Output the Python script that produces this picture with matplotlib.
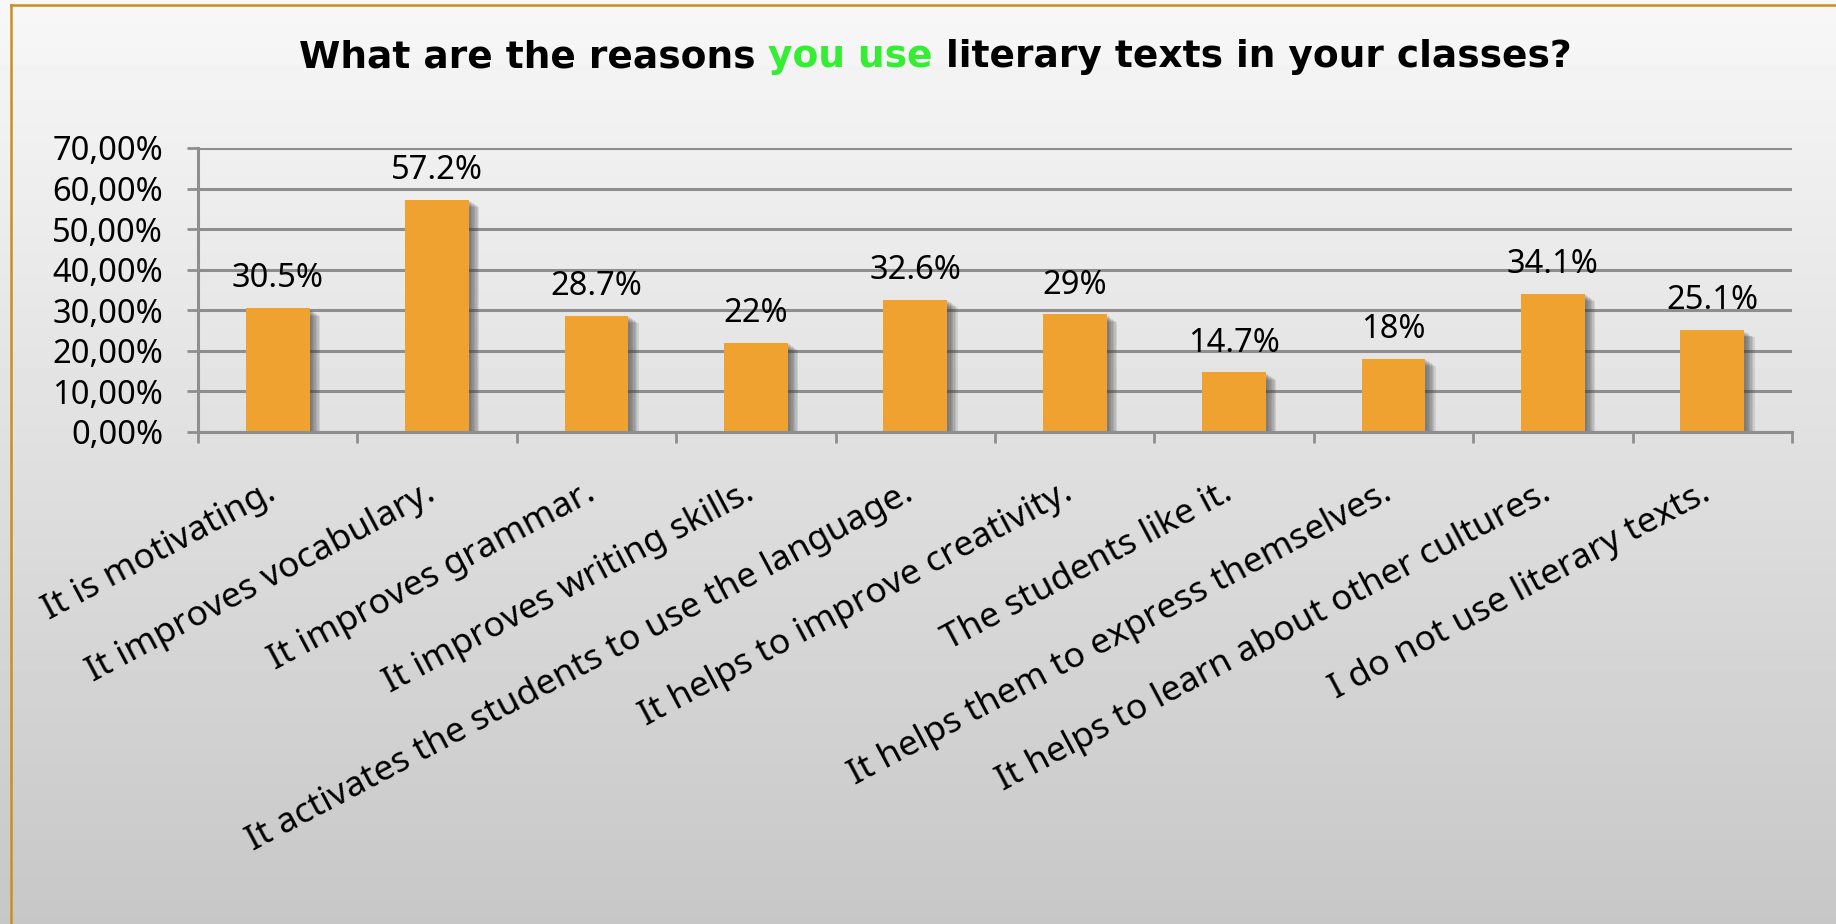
import numpy as np
import matplotlib
matplotlib.use("Agg")
import matplotlib.pyplot as plt
import matplotlib.patheffects as pe
from matplotlib.lines import Line2D

plt.rcParams['font.family'] = ['Noto Sans', 'DejaVu Sans']

reasons = [
    "It is motivating.",
    "It improves vocabulary.",
    "It improves grammar.",
    "It improves writing skills.",
    "It activates the students to use the language.",
    "It helps to improve creativity.",
    "The students like it.",
    "It helps them to express themselves.",
    "It helps to learn about other cultures.",
    "I do not use literary texts.",
]
shares = [30.5, 57.2, 28.7, 22, 32.6, 29, 14.7, 18, 34.1, 25.1]
value_labels = ["30.5%", "57.2%", "28.7%", "22%", "32.6%", "29%", "14.7%", "18%", "34.1%", "25.1%"]
y_ticks = [0, 10, 20, 30, 40, 50, 60, 70]
y_tick_labels = ["0,00%", "10,00%", "20,00%", "30,00%", "40,00%", "50,00%", "60,00%", "70,00%"]

W, H = 1836, 924
fig = plt.figure(figsize=(W / 100, H / 100), dpi=100)

# grey vertical gradient behind everything
bg = fig.add_axes([0, 0, 1, 1], zorder=-10)
grad = np.linspace(0.97, 0.78, 256).reshape(-1, 1)
bg.imshow(grad, cmap='gray', vmin=0, vmax=1, aspect='auto', extent=[0, 1, 0, 1])
bg.axis('off')

# golden frame (left and top edges)
gold = '#C8901E'
fig.add_artist(Line2D([11 / W, 11 / W], [0, 1 - 5 / H], color=gold, lw=1.8))
fig.add_artist(Line2D([11 / W, 1], [1 - 5 / H, 1 - 5 / H], color=gold, lw=1.8))

ax = fig.add_axes([198 / W, 1 - 432 / H, (1792 - 198) / W, (432 - 148) / H])
ax.set_facecolor('none')
ax.set_axisbelow(True)

grid_col = '#8E8E8E'
x = np.arange(len(reasons))
# soft drop shadow built from a few stacked offsets
shadow = [pe.SimplePatchShadow(offset=(d, -d * 0.7), shadow_rgbFace='#404040', alpha=0.13)
          for d in (1.5, 2.5, 3.5, 4.5, 5.5, 6.5, 7.5)]
bars = ax.bar(x, shares, width=0.4, color='#EFA230', zorder=3)
for b in bars:
    b.set_path_effects(shadow + [pe.Normal()])

for xi, v, lab in zip(x, shares, value_labels):
    ax.annotate(lab, (xi, v), xytext=(0, 15), textcoords='offset points',
                ha='center', va='baseline', fontsize=23.5, color='black', zorder=4)

ax.set_xlim(-0.5, len(reasons) - 0.5)
ax.set_ylim(0, 70)
ax.set_yticks(y_ticks, y_tick_labels)
ax.yaxis.grid(True, color=grid_col, lw=2.2)
ax.tick_params(axis='y', length=8, width=2, color=grid_col, pad=17, labelsize=23.5)

ax.set_xticks(x, reasons, rotation=28, ha='right', va='baseline', rotation_mode='anchor')
ax.set_xticks(np.arange(-0.5, len(reasons)), minor=True)
ax.tick_params(axis='x', which='major', length=0, pad=48, labelsize=25.5)
ax.tick_params(axis='x', which='minor', length=8, width=2, color=grid_col)

for side in ('top', 'right'):
    ax.spines[side].set_visible(False)
for side in ('left', 'bottom'):
    ax.spines[side].set_color(grid_col)
    ax.spines[side].set_linewidth(2.2)
ax.spines['left'].set_zorder(2)
ax.spines['bottom'].set_zorder(5)

# title in three coloured pieces, centred as one line
parts = [("What are the reasons", 'black'), ("you use", '#33EE33'),
         ("literary texts in your classes?", 'black')]
title_y = 1 - 57 / H
title_size = 27
texts = [fig.text(0, title_y, s, color=c, fontsize=title_size, fontweight='bold',
                  family='DejaVu Sans', va='center')
         for s, c in parts]
renderer = fig.canvas.get_renderer()
widths = [t.get_window_extent(renderer).width for t in texts]
space = 0.35 * title_size * 100 / 72
total = sum(widths) + space * (len(parts) - 1)
cur = 935 - total / 2
for t, w in zip(texts, widths):
    t.set_x(cur / W)
    cur += w + space

fig.savefig("out.png", dpi=100)
